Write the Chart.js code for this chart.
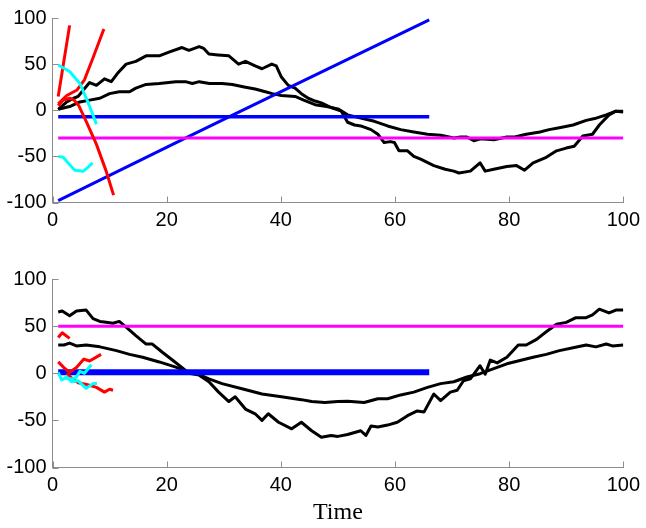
<!DOCTYPE html>
<html>
<head>
<meta charset="utf-8">
<script src="https://cdn.jsdelivr.net/npm/chart.js@4/dist/chart.umd.min.js"></script>
<style>
  html, body { margin: 0; padding: 0; background: #fff; }
  #wrap { position: relative; width: 646px; height: 528px; }
  #wrap canvas { position: absolute; left: 0; }
  #cTop { top: 0; }
  #cBot { top: 232px; }
</style>
</head>
<body>
<div id="wrap">
  <canvas id="cTop" width="646" height="232"></canvas>
  <canvas id="cBot" width="646" height="296"></canvas>
</div>
<script>
// ---- axis ticks ----
const xTicks = [0, 20, 40, 60, 80, 100];
const yTicks = [-100, -50, 0, 50, 100];
const xTitle = 'Time';

// ---- upper panel ----
const topBigX = [1,2.5,3.7,4.5,5.4,6.5,7.7,9.1,10.3,11.4,12.9,14.6,16.4,18.7,20.4,22.7,23.9,25.7,26.5,27.4,29,30.9,32.6,33.8,35.5,36.7,38.4,39.2,40.1,41.3,42.5,43.6,44.8,46,47.1,48.8,50.6,51.7,52.9,54,55.8,57,58.1,59.2,59.9,60.7,62.2,63.3,64.5,66.8,68.8,70.3,71.2,73.2,74.9,75.8,77.3,79.6,81.3,82.7,84.2,86.5,88.3,90,91.4,92.9,94.6,95.8,97.5,98.7,100];
const topBigY = [1,9,13,15,22,30,27,34,31,40,50,53,59,59,63,68,65,69,67,61,60,59,50,53,48,45,50,48,36,27,24,18,13,10,8,3,-1,-13,-16,-17,-21,-26,-35,-34,-35,-44,-44,-50,-53,-60,-64,-66,-68,-66,-57,-66,-64,-61,-60,-65,-57,-51,-44,-41,-39,-28,-26,-16,-5,-1,-2];

const topSmallX = [1,3,4.8,6.5,8.3,10,11.7,13.5,14.6,16.4,18.7,21.6,23.3,24.5,25.7,27.5,29.7,31.5,33.8,35.5,37.3,38.5,40.1,42.5,44,46,48,50,51.7,54,56.4,58.7,61,63.3,65.7,68,70.3,71.5,72.6,73.8,75,77.3,79.6,81,83,85.4,87,88.8,91.2,93.5,95,97,98.7,100];
const topSmallY = [1,4,9,11,13,18,20,20,24,28,29,31,31,29,31,29,29,28,25,23,20,18,16,15,11,6,4,1.5,-5,-8.5,-12,-17,-21,-23.5,-26,-27,-30,-29,-29,-33,-31,-32,-29,-29,-26,-23.5,-21,-19,-16,-11,-9,-5,-1,-1];

const topLevelX = [1, 66];
const topLevelY = [-7, -7];
const topRampX = [1, 23, 31, 45, 66];
const topRampY = [-98, -31, -7, 35, 98];
const topRefX = [1, 100];
const topRefY = [-30, -30];

const topRedAX = [1, 3];
const topRedAY = [15, 92];
const topRedBX = [1, 2.5, 4.3, 5.6, 7.1, 9];
const topRedBY = [7, 16, 22, 33, 57, 88];
const topRedCX = [1, 1.9, 3, 3.8, 4.6, 5.9, 7.7, 9.4, 10.7];
const topRedCY = [5, 11, 13, 11, 5, -12, -37, -66, -92];

const topCyanAX = [1, 3, 4.8, 6.2, 7.7];
const topCyanAY = [49, 42, 29, 9, -15];
const topCyanBX = [1, 1.9, 2.7, 3.9, 5.4, 6.2, 7];
const topCyanBY = [-50, -51, -57, -65, -66, -62, -57];

// ---- lower panel ----
const botBigX = [1,1.7,3,4.2,5.9,7.1,8.3,9.4,10.6,11.7,12.9,14.6,16.4,17.5,19.3,21,22.7,23.9,25.7,27.4,29.1,30.9,32,33.8,35.5,36.7,37.8,39.6,41.9,43.6,45.4,47.1,48.8,50,51.7,54,54.9,55.8,57,58.7,60.4,62.2,63.9,65.1,66.8,68,69.7,70.9,72,73.2,74.9,75.8,76.7,77.9,79.6,81.6,83,84.8,86.5,88.3,90,91.7,93.5,94.6,95.8,97.5,98.7,100];
const botBigY = [65,66,61,66,67,58,55,54,53,55,49,40,31,31,22,14,6,0,-2,-9,-20,-30,-25,-38,-43,-50,-43,-52,-59,-52,-61,-68,-66,-67,-65,-61,-66,-56,-57,-55,-52,-45,-40,-41,-22,-29,-20,-18,-8,-6,8,-1,14,11,17,30,30,36,44,52,54,59,59,62,68,64,67,67];

const botSmallX = [1,2,3,4.2,5.9,8.3,11.2,13.5,15.8,18.7,21.6,23.9,25.5,27.4,29.7,33.2,36.7,40.1,43.6,45.4,47.7,50,51.7,54.6,57,58.7,61,63.3,65.7,68,70.3,72.6,74.9,77.3,79.6,81.9,84.2,86.5,88.8,91.2,93.5,95.2,97,98.1,100];
const botSmallY = [30,30,32,29,30,28,24,20,17,12,6.5,1,-1,-6,-11,-16.5,-22,-25,-28,-30,-31,-30,-29.6,-31,-27,-27,-23,-20,-15,-11,-9,-4,-0.5,5,10,13.6,17,20,24,27,30,28,31,29,30];

const botLevelX = [1, 66];
const botLevelY = [1, 1];
const botRefX = [1, 100];
const botRefY = [50, 50];

const botRedAX = [1, 1.7, 3];
const botRedAY = [38, 43, 37];
const botRedBX = [1, 2, 3, 4.2, 5.5, 6.5, 8.5];
const botRedBY = [12, 6, 1, 6, 15, 13, 20];
const botRedCX = [2.5, 3.5, 4.5, 6, 7.7, 9.1, 10, 10.6];
const botRedCY = [0, -6, -10, -12, -15, -20, -17, -18];

const botCyanAX = [1, 1.6, 2.5, 3.3, 4.5, 5.9, 7.1, 7.8];
const botCyanAY = [1, -7, -4, -9, -8, -16, -11, -11];
const botCyanBX = [2, 3.5, 4.2, 4.8, 5.6, 6.8];
const botCyanBY = [-5, -6, -4, 2, 0, 9];

// ---- helpers ----
const AXIS_GREY = '#8c8c8c';
const TICK_FONT = { family: "'Liberation Sans', Arial, sans-serif", size: 20 };

function pts(xs, ys) { return xs.map((x, i) => ({ x: x, y: ys[i] })); }

function series(xs, ys, color, width, order) {
  return {
    data: pts(xs, ys),
    borderColor: color,
    backgroundColor: color,
    borderWidth: width,
    pointRadius: 0,
    tension: 0,
    fill: false,
    order: order,
    borderJoinStyle: 'round',
    borderCapStyle: 'butt'
  };
}

// inward tick marks on the left and bottom spines
const innerTicks = {
  id: 'innerTicks',
  afterDraw(chart) {
    const { ctx, chartArea } = chart;
    const xs = chart.scales.x, ys = chart.scales.y;
    ctx.save();
    ctx.strokeStyle = AXIS_GREY;
    ctx.lineWidth = 1;
    ctx.beginPath();
    xTicks.forEach(v => {
      const px = Math.round(xs.getPixelForValue(v)) + 0.5;
      ctx.moveTo(px, chartArea.bottom);
      ctx.lineTo(px, chartArea.bottom - 6);
    });
    yTicks.forEach(v => {
      const py = Math.round(ys.getPixelForValue(v)) + 0.5;
      ctx.moveTo(chartArea.left, py);
      ctx.lineTo(chartArea.left + 6, py);
    });
    ctx.stroke();
    ctx.restore();
  }
};

function makeChart(id, datasets, padTop, xHeight, showTitle) {
  return new Chart(document.getElementById(id), {
    type: 'line',
    data: { datasets: datasets },
    plugins: [innerTicks],
    options: {
      responsive: false,
      devicePixelRatio: 1,
      animation: false,
      events: [],
      layout: { padding: { left: 0, right: 19, top: padTop, bottom: 0 } },
      plugins: { legend: { display: false }, tooltip: { enabled: false } },
      scales: {
        x: {
          type: 'linear',
          min: 0, max: 100,
          afterFit(s) { s.height = xHeight; },
          afterBuildTicks(s) { s.ticks = xTicks.map(v => ({ value: v })); },
          grid: { display: false, drawTicks: false },
          border: { display: true, color: AXIS_GREY, width: 1 },
          ticks: { color: '#000', font: TICK_FONT, padding: 6, maxRotation: 0, autoSkip: false },
          title: {
            display: showTitle,
            text: xTitle,
            color: '#000',
            font: { family: "'Liberation Serif', 'Times New Roman', serif", size: 24 },
            padding: { top: 0, bottom: 1 }
          }
        },
        y: {
          type: 'linear',
          min: -100, max: 100,
          afterFit(s) { s.width = 52.5; },
          afterBuildTicks(s) { s.ticks = yTicks.map(v => ({ value: v })); },
          grid: { display: false, drawTicks: false },
          border: { display: true, color: AXIS_GREY, width: 1 },
          ticks: { color: '#000', font: TICK_FONT, padding: 6, autoSkip: false }
        }
      }
    }
  });
}

makeChart('cTop', [
  series(topCyanAX, topCyanAY, '#00ffff', 3, 1),
  series(topCyanBX, topCyanBY, '#00ffff', 3, 1),
  series(topRedAX, topRedAY, '#ff0000', 3, 2),
  series(topRedBX, topRedBY, '#ff0000', 3, 2),
  series(topRedCX, topRedCY, '#ff0000', 3, 2),
  series(topRefX, topRefY, '#ff00ff', 3, 3),
  series(topLevelX, topLevelY, '#0000ff', 3.5, 3),
  series(topRampX, topRampY, '#0000ff', 3, 3),
  series(topBigX, topBigY, '#000000', 3, 4),
  series(topSmallX, topSmallY, '#000000', 3, 4)
], 15.5, 29.5, false);

makeChart('cBot', [
  series(botCyanAX, botCyanAY, '#00ffff', 3, 1),
  series(botCyanBX, botCyanBY, '#00ffff', 3, 1),
  series(botRedAX, botRedAY, '#ff0000', 3, 2),
  series(botRedBX, botRedBY, '#ff0000', 3, 2),
  series(botRedCX, botRedCY, '#ff0000', 3, 2),
  series(botRefX, botRefY, '#ff00ff', 3, 3),
  series(botLevelX, botLevelY, '#0000ff', 6, 3),
  series(botBigX, botBigY, '#000000', 3, 4),
  series(botSmallX, botSmallY, '#000000', 3, 4)
], 47, 60.5, true);
</script>
</body>
</html>
